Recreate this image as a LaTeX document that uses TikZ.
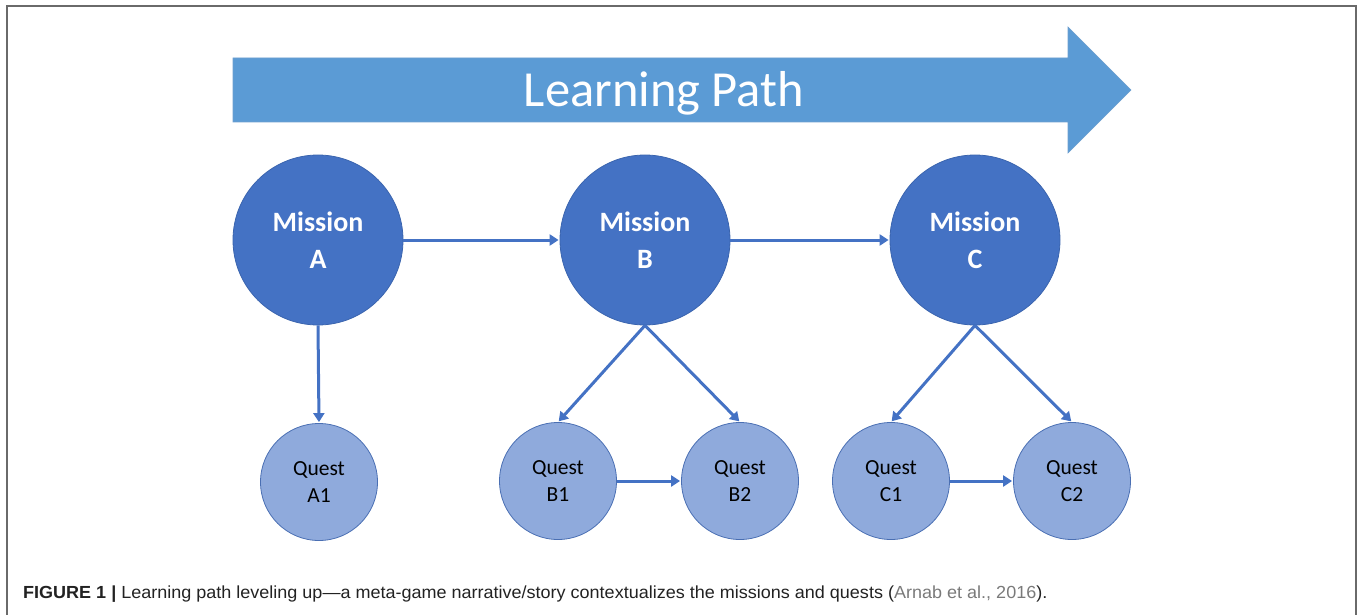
\documentclass[tikz,border=0pt]{standalone}
\usepackage{fontspec}
\usepackage{graphicx}
\setmainfont{Carlito}
\newfontfamily\capfont{Liberation Sans}
\usetikzlibrary{arrows.meta}

\definecolor{framegray}{HTML}{6A6A6A}
\definecolor{pathblue}{HTML}{5B9BD5}
\definecolor{pathedge}{HTML}{6E9FCF}
\definecolor{missionblue}{HTML}{4472C4}
\definecolor{missionedge}{HTML}{3A64AE}
\definecolor{questblue}{HTML}{8FAADC}
\definecolor{questedge}{HTML}{4A6FB3}
\definecolor{linkblue}{HTML}{4472C4}
\definecolor{citegray}{HTML}{7A7A7A}
\definecolor{captext}{HTML}{222222}

\tikzset{
  mission/.style={circle, minimum size=170pt, inner sep=0pt, fill=missionblue,
    draw=missionedge, line width=0.8pt, text=white, align=center,
    font=\bfseries\fontsize{28}{37}\selectfont},
  quest/.style={circle, minimum size=117pt, inner sep=0pt, fill=questblue,
    draw=questedge, line width=0.8pt, text=black, align=center,
    font=\fontsize{21.5}{27}\selectfont},
  link/.style={draw=linkblue, line width=3pt,
    -{Triangle[length=9pt,width=11pt]}, shorten >=1pt},
}

\begin{document}
\begin{tikzpicture}[x=1pt,y=-1pt]
\useasboundingbox (0,0) rectangle (1358,615);

% open frame around the figure (top, left, right)
\draw[framegray, line width=1.6pt] (7,615) -- (7,6) -- (1356,6) -- (1356,615);

% the learning path arrow
\draw[fill=pathblue, draw=pathedge, line width=0.6pt]
  (233,58) -- (1068,58) -- (1068,27) -- (1131,90) -- (1068,153)
  -- (1068,122) -- (233,122) -- cycle;
\node[anchor=base, text=white, font=\fontsize{50.5}{58}\selectfont, inner sep=0pt]
  (lp) at (664,107) {Learning Path};

% missions
\node[mission] (ma) at (318,240) {Mission\\A};
\node[mission] (mb) at (645,240) {Mission\\B};
\node[mission] (mc) at (975,240) {Mission\\C};

% quests
\node[quest] (qa1) at (319,482) {Quest\\A1};
\node[quest] (qb1) at (558,481) {Quest\\B1};
\node[quest] (qb2) at (740,481) {Quest\\B2};
\node[quest] (qc1) at (891,481) {Quest\\C1};
\node[quest] (qc2) at (1072,481) {Quest\\C2};

% connectors
\draw[link] (ma.east) -- (mb.west);
\draw[link] (mb.east) -- (mc.west);
\draw[link] (ma.south) -- (qa1.north);
\draw[link] (mb.south) -- (qb1.north);
\draw[link] (mb.south) -- (qb2.north);
\draw[link] (mc.south) -- (qc1.north);
\draw[link] (mc.south) -- (qc2.north);
\draw[link] (qb1.east) -- (qb2.west);
\draw[link] (qc1.east) -- (qc2.west);

% caption
\node[anchor=base west, inner sep=0pt, text=captext,
  font=\capfont\fontsize{17.5}{20}\selectfont] (cap) at (23,598)
  {\resizebox{1024pt}{\height}{{\bfseries FIGURE 1 |} Learning path leveling up—a meta-game narrative/story contextualizes the missions and quests ({\color{citegray}Arnab et al., 2016}).}};
\end{tikzpicture}
\end{document}
